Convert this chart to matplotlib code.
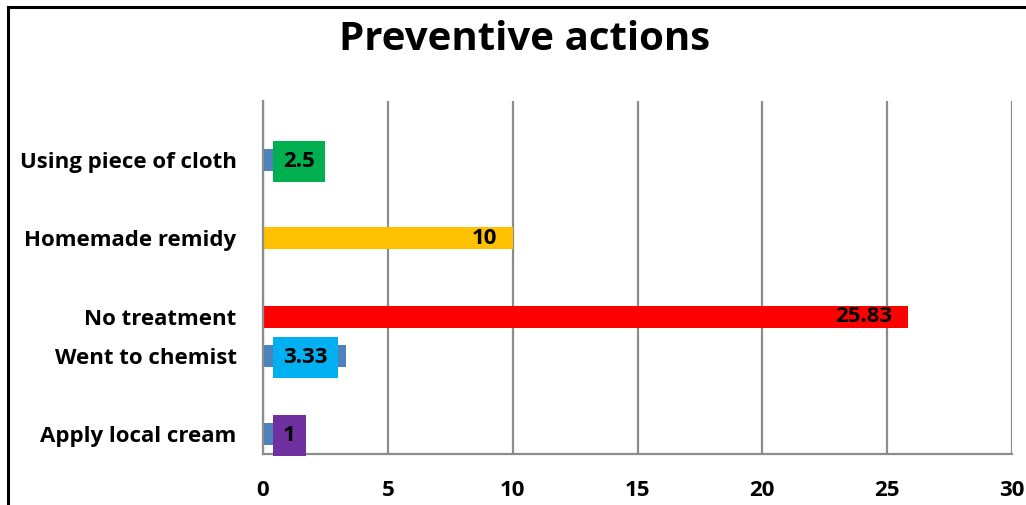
import matplotlib.pyplot as plt
from matplotlib.lines import Line2D

# data, top to bottom
categories = ['Using piece of cloth', 'Homemade remidy', 'No treatment',
              'Went to chemist', 'Apply local cream']
values = [2.5, 10, 25.83, 3.33, 1]
value_labels = ['2.5', '10', '25.83', '3.33', '1']
slots = [2, 4, 6, 7, 9]  # row slots used by the original chart
bar_colors = ['#4F81BD', '#FFC000', '#FF0000', '#4F81BD', '#4F81BD']
box_colors = ['#00B050', None, None, '#00B0F0', '#7030A0']
xticks = [0, 5, 10, 15, 20, 25, 30]

plt.rcParams['font.family'] = ['Open Sans', 'DejaVu Sans']

fig = plt.figure(figsize=(10.26, 5.05), dpi=100)
ax = fig.add_axes([263 / 1026, 1 - 454 / 505, (1012 - 263) / 1026, (454 - 101) / 505])

ax.barh(slots, values, height=0.56, color=bar_colors, zorder=2)

for y, v, lab, bc in zip(slots, values, value_labels, box_colors):
    if bc is None:
        # label inside the end of the bar
        ax.annotate(lab, xy=(v, y), xytext=(-11, 0), textcoords='offset points',
                    ha='right', va='center', fontsize=16, fontweight='bold',
                    zorder=4)
    else:
        # label at the base with a coloured box
        ax.annotate(lab, xy=(0, y), xytext=(14.4, -1), textcoords='offset points',
                    ha='left', va='center', fontsize=16, fontweight='bold',
                    bbox=dict(boxstyle='square,pad=0.45', fc=bc, ec='none'),
                    zorder=4)

ax.set_xlim(0, 30)
ax.set_ylim(9.5, 0.5)
ax.set_xticks(xticks)
ax.set_xticklabels([str(t) for t in xticks], fontsize=16, fontweight='bold')
ax.set_yticks(slots)
ax.set_yticklabels(categories, fontsize=16, fontweight='bold')
ax.tick_params(axis='x', length=0, pad=19)
ax.tick_params(axis='y', length=0, pad=19)

ax.grid(axis='x', color='#8c8c8c', linewidth=1.6, zorder=1)
ax.set_axisbelow(True)
for side in ['top', 'right']:
    ax.spines[side].set_visible(False)
for side in ['left', 'bottom']:
    ax.spines[side].set_color('#8c8c8c')
    ax.spines[side].set_linewidth(1.6)

fig.text(525 / 1026, 1 - 40 / 505, 'Preventive actions', ha='center', va='center',
         fontsize=29, fontweight='bold')

# outer border of the chart area (cut off at right and bottom)
x0 = 8 / 1026
y0 = 1 - 7 / 505
fig.add_artist(Line2D([x0, x0], [0, y0], color='black', linewidth=2.2))
fig.add_artist(Line2D([x0, 1], [y0, y0], color='black', linewidth=2.2))

fig.savefig('out.png', dpi=100)
